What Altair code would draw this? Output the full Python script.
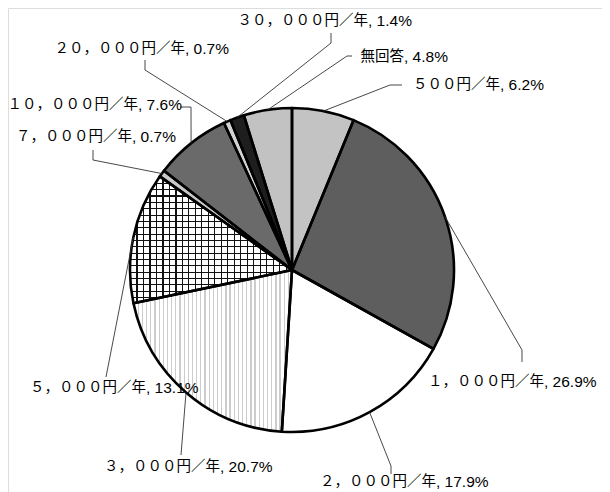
import math
import altair as alt
import pandas as pd

# ---------------- data ----------------
labels = ["500円／年", "1,000円／年", "2,000円／年", "3,000円／年", "5,000円／年",
          "7,000円／年", "10,000円／年", "20,000円／年", "30,000円／年", "無回答"]
label_main = ["５００円／年", "１，０００円／年", "２，０００円／年", "３，０００円／年", "５，０００円／年",
              "７，０００円／年", "１０，０００円／年", "２０，０００円／年", "３０，０００円／年", "無回答"]
shares = [6.2, 26.9, 17.9, 20.7, 13.1, 0.7, 7.6, 0.7, 1.4, 4.8]

# ---------------- style / layout ----------------
fills = ["#c3c3c3", "#5e5e5e", "#ffffff", "#ffffff", "#ffffff",
         "#c8c8c8", "#6a6a6a", "#d2d2d2", "#1e1e1e", "#c2c2c2"]
OFF = 8  # page margin
CX, CY, R = 292 - OFF, 270 - OFF, 162
# leader polyline points after the anchor (page coords)
leader_pts = [
    [(390, 85), (402, 85)],
    [(522, 350), (522, 362)],
    [(391, 466), (391, 474)],
    [(181, 455)],
    [(106, 377)],
    [(93, 160), (93, 150)],
    [(191, 107), (180, 107)],
    [(145, 70), (145, 60)],
    [(331, 43), (331, 33)],
    [(347, 56), (352, 56)],
]
# label split x (end of main part / start of percent) and y (page coords)
label_pos = [(500, 85), (544, 382), (436, 482), (220, 467), (146, 388),
             (132, 137), (138, 105), (185, 49), (368, 21), (404, 57)]

df = pd.DataFrame({"idx": list(range(len(labels))), "label": labels, "share": shares})

# leader lines
rows = []
cum = 0.0
total = sum(shares)
for i, (lab, v) in enumerate(zip(labels, shares)):
    mid = (cum + v / 2) / total * 2 * math.pi
    cum += v
    ax = CX + R * math.sin(mid)
    ay = CY - R * math.cos(mid)
    pts = [(ax, ay)] + [(x - OFF, y - OFF) for x, y in leader_pts[i]]
    for s, (x, y) in enumerate(pts):
        rows.append({"label": lab, "seq": s, "px": x, "py": y})
lines_df = pd.DataFrame(rows)

text_df = pd.DataFrame({
    "label": labels,
    "main": label_main,
    "pct": [f", {v}%" for v in shares],
    "tx": [p[0] - OFF for p in label_pos],
    "ty": [p[1] - OFF for p in label_pos],
})


def stripes(n, frac, color, vertical_lines=True):
    T = "rgba(255,255,255,0)"
    stops = []
    for i in range(n):
        a = i / n
        b = (i + frac) / n
        stops += [{"offset": a, "color": T}, {"offset": a, "color": color},
                  {"offset": b, "color": color}, {"offset": b, "color": T}]
    stops.append({"offset": 1, "color": T})
    return {"gradient": "linear", "x1": 0, "y1": 0,
            "x2": 1 if vertical_lines else 0, "y2": 0 if vertical_lines else 1,
            "stops": stops}


theta = alt.Theta("share:Q", stack=True)
order = alt.Order("idx:Q")
xc, yc = alt.value(CX), alt.value(CY)

base = alt.Chart(df).mark_arc(radius=R, strokeWidth=0).encode(
    theta=theta, order=order, x=xc, y=yc,
    fill=alt.Fill("label:N", scale=alt.Scale(domain=labels, range=fills), legend=None),
)


def overlay(idx, grad):
    return alt.Chart(df).mark_arc(radius=R, strokeWidth=0).encode(
        theta=theta, order=order, x=xc, y=yc, detail="label:N",
        fill=alt.condition(alt.datum.idx == idx, alt.value(grad), alt.value("transparent")),
    )


ov_3000 = overlay(3, stripes(38, 0.3, "#cccccc", True))
ov_5000v = overlay(4, stripes(25, 0.18, "#111111", True))
ov_5000h = overlay(4, stripes(20, 0.18, "#111111", False))

outline = alt.Chart(df).mark_arc(radius=R, fillOpacity=0, stroke="black",
                                 strokeWidth=2.6, strokeJoin="round").encode(
    theta=theta, order=order, x=xc, y=yc, detail="label:N",
)

leaders = alt.Chart(lines_df).mark_line(color="#333333", strokeWidth=0.9).encode(
    x=alt.X("px:Q", scale=None, axis=None),
    y=alt.Y("py:Q", scale=None, axis=None),
    detail="label:N",
    order="seq:Q",
)

txt_main = alt.Chart(text_df).mark_text(
    align="right", baseline="middle", font="Noto Sans CJK JP", fontSize=14.5, color="black"
).encode(
    x=alt.X("tx:Q", scale=None, axis=None),
    y=alt.Y("ty:Q", scale=None, axis=None),
    text="main:N",
)
txt_pct = alt.Chart(text_df).mark_text(
    align="left", baseline="middle",
    font="Liberation Sans Narrow, Liberation Sans, sans-serif", fontSize=15.5, color="black"
).encode(
    x=alt.X("tx:Q", scale=None, axis=None),
    y=alt.Y("ty:Q", scale=None, axis=None),
    text="pct:N",
)

chart = alt.layer(base, ov_3000, ov_5000v, ov_5000h, outline, leaders, txt_main, txt_pct).properties(
    width=594, height=484, autosize="none", padding=0
).configure_view(stroke=None).configure(background="white")

chart.save("out.html", embed_options={"renderer": "svg", "actions": False})
